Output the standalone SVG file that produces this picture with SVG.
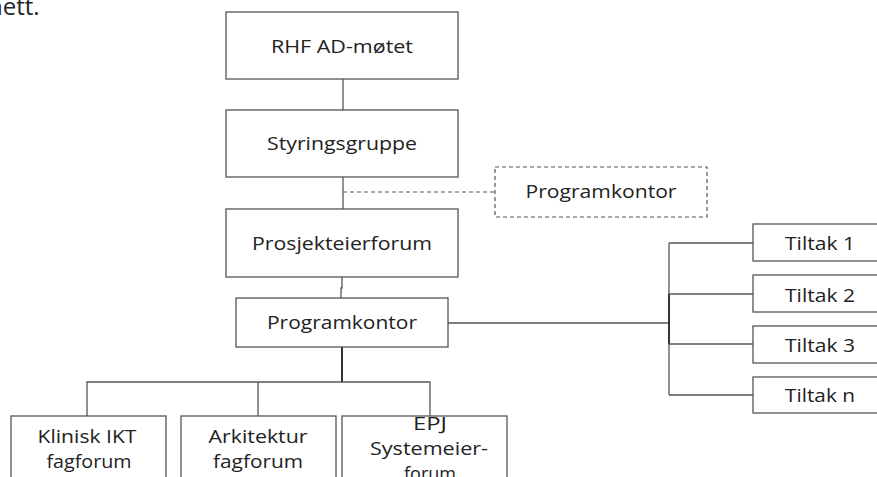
<svg xmlns="http://www.w3.org/2000/svg" width="877" height="477" viewBox="0 0 877 477">
<style>
.box{fill:#fff;stroke:#555;stroke-width:1.3}
.dbox{fill:#fff;stroke:#555;stroke-width:1.2;stroke-dasharray:4 3}
.t{font-family:"Open Sans","Liberation Sans",sans-serif;font-size:18px;fill:#222}
.c{text-anchor:middle}
.ln{fill:none;stroke:#555;stroke-width:1.3}
.dl{fill:none;stroke:#555;stroke-width:1.2;stroke-dasharray:4 3}
</style>
<rect width="877" height="477" fill="#fff"/>
<text class="t" x="-12" y="15" style="font-size:24px">nett.</text>
<g id="connectors">
<line class="ln" x1="343" y1="79" x2="343" y2="110"/>
<line class="ln" x1="343" y1="177" x2="343" y2="209"/>
<line class="dl" x1="343" y1="192" x2="495" y2="192"/>
<polyline class="ln" points="342,277 342,288 341,288 341,298"/>
<line class="ln" x1="342" y1="347" x2="342" y2="382" style="stroke-width:2;stroke:#333"/>
<polyline class="ln" points="87,416 87,382 430,382 430,416"/>
<line class="ln" x1="258" y1="382" x2="258" y2="416"/>
<line class="ln" x1="448" y1="323" x2="669" y2="323"/>
<line class="ln" x1="669" y1="243" x2="669" y2="395"/>
<line class="ln" x1="669" y1="294" x2="669" y2="344" style="stroke-width:2;stroke:#333"/>
<line class="ln" x1="669" y1="243" x2="753" y2="243"/>
<line class="ln" x1="669" y1="294" x2="753" y2="294"/>
<line class="ln" x1="669" y1="344" x2="753" y2="344"/>
<line class="ln" x1="669" y1="395" x2="753" y2="395"/>
</g>
<g id="rhf">
<rect class="box" x="226" y="12" width="232" height="67"/>
<text class="t c" x="342" y="53" textLength="142" lengthAdjust="spacingAndGlyphs">RHF AD-møtet</text>
</g>
<g id="styringsgruppe">
<rect class="box" x="226" y="110" width="232" height="67"/>
<text class="t c" x="342" y="150" textLength="150" lengthAdjust="spacingAndGlyphs">Styringsgruppe</text>
</g>
<g id="programkontor-staff">
<rect class="dbox" x="495" y="167" width="212" height="50"/>
<text class="t c" x="601" y="198" textLength="151" lengthAdjust="spacingAndGlyphs">Programkontor</text>
</g>
<g id="prosjekteierforum">
<rect class="box" x="226" y="209" width="232" height="68"/>
<text class="t c" x="342" y="250" textLength="180" lengthAdjust="spacingAndGlyphs">Prosjekteierforum</text>
</g>
<g id="programkontor">
<rect class="box" x="236" y="298" width="212" height="49"/>
<text class="t c" x="342" y="329" textLength="150" lengthAdjust="spacingAndGlyphs">Programkontor</text>
</g>
<g id="tiltak1">
<rect class="box" x="753" y="224" width="130" height="37"/>
<text class="t" x="785" y="250" textLength="70" lengthAdjust="spacingAndGlyphs">Tiltak 1</text>
</g>
<g id="tiltak2">
<rect class="box" x="753" y="275" width="130" height="37"/>
<text class="t" x="785" y="302" textLength="70" lengthAdjust="spacingAndGlyphs">Tiltak 2</text>
</g>
<g id="tiltak3">
<rect class="box" x="753" y="326" width="130" height="37"/>
<text class="t" x="785" y="352" textLength="70" lengthAdjust="spacingAndGlyphs">Tiltak 3</text>
</g>
<g id="tiltakn">
<rect class="box" x="753" y="377" width="130" height="36"/>
<text class="t" x="785" y="402" textLength="70" lengthAdjust="spacingAndGlyphs">Tiltak n</text>
</g>
<g id="klinisk">
<rect class="box" x="11" y="416" width="155" height="70"/>
<text class="t c" x="87" y="443" textLength="99" lengthAdjust="spacingAndGlyphs">Klinisk IKT</text>
<text class="t c" x="89" y="468" textLength="85" lengthAdjust="spacingAndGlyphs">fagforum</text>
</g>
<g id="arkitektur">
<rect class="box" x="181" y="416" width="155" height="70"/>
<text class="t c" x="258" y="443" textLength="99" lengthAdjust="spacingAndGlyphs">Arkitektur</text>
<text class="t c" x="258" y="468" textLength="90" lengthAdjust="spacingAndGlyphs">fagforum</text>
</g>
<g id="epj">
<rect class="box" x="342" y="416" width="165" height="70"/>
<text class="t c" x="430" y="430" textLength="34" lengthAdjust="spacingAndGlyphs">EPJ</text>
<text class="t c" x="429" y="455" textLength="118" lengthAdjust="spacingAndGlyphs">Systemeier-</text>
<text class="t c" x="430" y="480">forum</text>
</g>
</svg>
